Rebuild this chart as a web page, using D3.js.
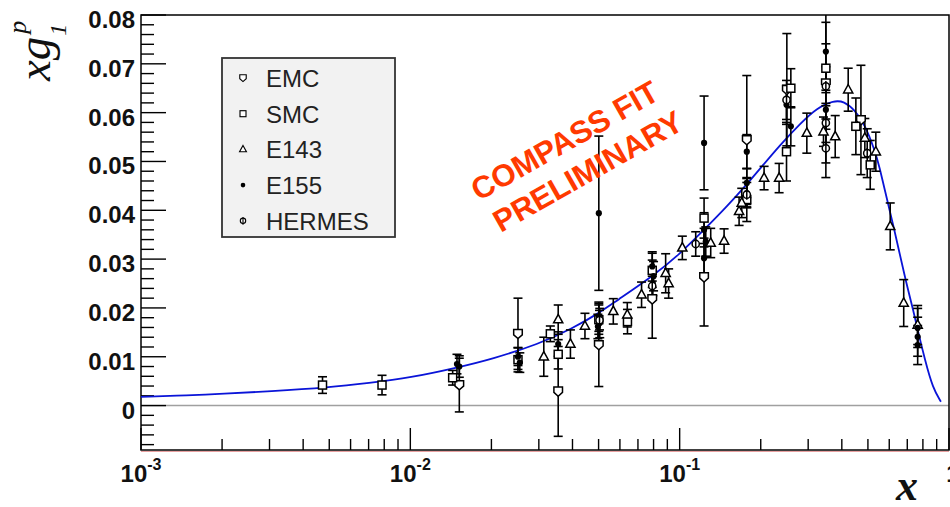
<!DOCTYPE html>
<html>
<head>
<meta charset="utf-8">
<script src="https://cdn.jsdelivr.net/npm/d3@7"></script>
<style>
  body { margin: 0; background: #fff; }
  svg { display: block; }
</style>
</head>
<body>
<div id="chart"></div>
<script>
// fit curve
const fitX = [0.001, 0.0015, 0.002, 0.003, 0.005, 0.007, 0.01, 0.015, 0.02, 0.03, 0.04, 0.05,
  0.0577, 0.0791, 0.1, 0.1232, 0.15, 0.1768, 0.2, 0.2369, 0.2806, 0.3236, 0.3735, 0.408,
  0.4454, 0.4857, 0.5296, 0.553, 0.5753, 0.6273, 0.6846, 0.7467, 0.765, 0.8136, 0.8716, 0.9334];
const fitY = [0.0018, 0.0021, 0.0024, 0.0029, 0.0037, 0.0046, 0.0057, 0.0078, 0.0095, 0.0126, 0.0158, 0.0189,
  0.0213, 0.0264, 0.0310, 0.0360, 0.0408, 0.0452, 0.0487, 0.0535, 0.0578, 0.0610, 0.0625, 0.0623,
  0.0606, 0.0577, 0.0524, 0.0487, 0.0445, 0.0360, 0.0264, 0.0182, 0.0155, 0.0094, 0.0035, 0.0008];

// [x, xg1p, error]
const emcData = [
  [0.0152, 0.0042, 0.0055], [0.0251, 0.0147, 0.0073], [0.0354, 0.0029, 0.0092],
  [0.0501, 0.0124, 0.0085], [0.0791, 0.0218, 0.0080], [0.1232, 0.0263, 0.0100],
  [0.1775, 0.0544, 0.0132], [0.25, 0.0647, 0.0115], [0.349, 0.0660, 0.0163],
  [0.471, 0.0585, 0.0112]
];
const smcData = [
  [0.00472, 0.0042, 0.0017], [0.00785, 0.0042, 0.0020], [0.01436, 0.0057, 0.0015],
  [0.0251, 0.0094, 0.0025], [0.0331, 0.0147, 0.0016], [0.0354, 0.0105, 0.0030],
  [0.0501, 0.0176, 0.0030], [0.064, 0.0172, 0.0025], [0.0791, 0.0277, 0.0035],
  [0.1232, 0.0384, 0.0041], [0.1775, 0.0422, 0.0045], [0.2493, 0.0520, 0.0060],
  [0.2587, 0.0650, 0.0040], [0.349, 0.0691, 0.0050], [0.451, 0.0572, 0.0058],
  [0.51, 0.0493, 0.0050]
];
const e143Data = [
  [0.0313, 0.0100, 0.0040], [0.0354, 0.0176, 0.0030], [0.0393, 0.0126, 0.0029],
  [0.0445, 0.0163, 0.0026], [0.0567, 0.0193, 0.0026], [0.0639, 0.0186, 0.0025],
  [0.0722, 0.0227, 0.0026], [0.0887, 0.0271, 0.0040], [0.091, 0.0250, 0.0030],
  [0.1023, 0.0323, 0.0024], [0.1304, 0.0333, 0.0030], [0.1462, 0.0337, 0.0025],
  [0.1662, 0.0398, 0.0029], [0.170, 0.0415, 0.0030], [0.2058, 0.0466, 0.0024],
  [0.234, 0.0466, 0.0030], [0.2966, 0.0558, 0.0041], [0.342, 0.0561, 0.0030],
  [0.378, 0.0551, 0.0043], [0.4224, 0.0647, 0.0044], [0.487, 0.0548, 0.0040],
  [0.535, 0.0520, 0.0040], [0.605, 0.0367, 0.0048], [0.679, 0.0210, 0.0048],
  [0.765, 0.0165, 0.0040]
];
const e155Data = [
  [0.0152, 0.0080, 0.0022], [0.0149, 0.0085, 0.0020], [0.0251, 0.0100, 0.0018],
  [0.0255, 0.0088, 0.0020], [0.0354, 0.0126, 0.0025], [0.0501, 0.0394, 0.0158],
  [0.0501, 0.0182, 0.0030], [0.0505, 0.0169, 0.0030], [0.0497, 0.0162, 0.0025],
  [0.0791, 0.0285, 0.0030], [0.080, 0.0265, 0.0030], [0.0795, 0.0250, 0.0025],
  [0.1232, 0.0538, 0.0096], [0.1232, 0.0360, 0.0035], [0.125, 0.0336, 0.0030],
  [0.1232, 0.0302, 0.0030], [0.1775, 0.0520, 0.0035], [0.1775, 0.0456, 0.0030],
  [0.1775, 0.0435, 0.0030], [0.2587, 0.0572, 0.0040], [0.2493, 0.0616, 0.0040],
  [0.349, 0.0725, 0.0060], [0.349, 0.0606, 0.0040], [0.765, 0.0159, 0.0040],
  [0.765, 0.0141, 0.0040], [0.765, 0.0124, 0.0040]
];
const hermesData = [
  [0.0504, 0.0175, 0.0020], [0.0791, 0.0245, 0.0020], [0.1147, 0.0331, 0.0025],
  [0.1775, 0.0432, 0.0025], [0.2493, 0.0626, 0.0040], [0.349, 0.0654, 0.0040],
  [0.349, 0.0579, 0.0040], [0.349, 0.0527, 0.0060], [0.497, 0.0517, 0.0050]
];

const legendNames = ["EMC", "SMC", "E143", "E155", "HERMES"];
const xMajor = [1e-3, 1e-2, 1e-1, 1];
const xMajorExp = ["-3", "-2", "-1", null];
const yMajor = [0, 0.01, 0.02, 0.03, 0.04, 0.05, 0.06, 0.07, 0.08];

const series = [
  {name: "EMC", data: emcData},
  {name: "SMC", data: smcData},
  {name: "E143", data: e143Data},
  {name: "E155", data: e155Data},
  {name: "HERMES", data: hermesData}
];

const chartW = 950, chartH = 507;
const plotL = 141, plotR = 949, plotT = 15, plotB = 450;

const x = d3.scaleLog().domain([1e-3, 1]).range([plotL, plotR]);
const y = d3.scaleLinear().domain([-0.0091, 0.08]).range([plotB, plotT]);

const svg = d3.select("#chart").append("svg")
    .attr("width", chartW)
    .attr("height", chartH)
    .attr("font-family", "'Liberation Sans', Arial, sans-serif");

svg.append("rect").attr("width", chartW).attr("height", chartH).attr("fill", "#fff");

svg.append("defs").append("clipPath").attr("id", "plot-clip")
  .append("rect")
    .attr("x", plotL).attr("y", plotT)
    .attr("width", plotR - plotL).attr("height", plotB - plotT);

// zero line
svg.append("line")
    .attr("x1", plotL).attr("x2", plotR)
    .attr("y1", y(0)).attr("y2", y(0))
    .attr("stroke", "#a0a0a0")
    .attr("stroke-width", 1.5);

// faint red line under the x axis
svg.append("line")
    .attr("x1", plotL).attr("x2", plotR)
    .attr("y1", plotB + 1.5).attr("y2", plotB + 1.5)
    .attr("stroke", "#e8a0a0")
    .attr("stroke-width", 1);

// y ticks (drawn inside the frame)
let yAxis = svg.append("g").attr("stroke", "#000").attr("stroke-width", 1.4);
y.ticks(45).forEach(function (t) {
    let major = yMajor.some(function (m) { return Math.abs(m - t) < 1e-9; });
    yAxis.append("line")
        .attr("x1", plotL).attr("x2", plotL + (major ? 25 : 13))
        .attr("y1", y(t)).attr("y2", y(t));
});

svg.append("g")
    .selectAll("text")
    .data(yMajor)
    .enter().append("text")
    .attr("x", 135)
    .attr("y", function (d) { return y(d) + 13; })
    .attr("text-anchor", "end")
    .attr("font-size", 24)
    .attr("font-weight", "bold")
    .attr("fill", "#111")
    .text(function (d) { return d === 0 ? "0" : d.toFixed(2); });

// x ticks
let xAxis = svg.append("g").attr("stroke", "#000").attr("stroke-width", 1.4);
x.ticks().forEach(function (t) {
    let major = xMajor.some(function (m) { return Math.abs(Math.log10(m) - Math.log10(t)) < 1e-6; });
    xAxis.append("line")
        .attr("x1", x(t)).attr("x2", x(t))
        .attr("y1", plotB).attr("y2", plotB - (major ? 22 : 11));
});

let xLabels = svg.append("g")
    .selectAll("text")
    .data(xMajor)
    .enter().append("text")
    .attr("x", function (d) { return x(d); })
    .attr("y", 482)
    .attr("text-anchor", "middle")
    .attr("font-size", 24)
    .attr("font-weight", "bold")
    .attr("fill", "#111");
xLabels.each(function (d, i) {
    let t = d3.select(this);
    if (xMajorExp[i] === null) { t.attr("x", x(d) + 4).text("1"); return; }
    t.append("tspan").text("10");
    t.append("tspan").attr("dy", -12).attr("font-size", 16).text(xMajorExp[i]);
});

// frame
svg.append("rect")
    .attr("x", plotL).attr("y", plotT)
    .attr("width", plotR - plotL).attr("height", plotB - plotT)
    .attr("fill", "none")
    .attr("stroke", "#000")
    .attr("stroke-width", 1.5);

// fit curve
let line = d3.line()
    .x(function (d) { return x(d[0]); })
    .y(function (d) { return y(d[1]); })
    .curve(d3.curveBasis);

svg.append("path")
    .datum(fitX.map(function (v, i) { return [v, fitY[i]]; }))
    .attr("clip-path", "url(#plot-clip)")
    .attr("fill", "none")
    .attr("stroke", "#0a14d8")
    .attr("stroke-width", 1.8)
    .attr("d", line);

// markers for the experiments
function drawMarker(g, kind) {
    if (kind === "EMC") {
        g.append("path").attr("d", "M-4.3,-4.3H4.3V1L0,4.8L-4.3,1Z")
            .attr("fill", "#fff").attr("stroke", "#000").attr("stroke-width", 1.5);
    } else if (kind === "SMC") {
        g.append("rect").attr("x", -4).attr("y", -4).attr("width", 8).attr("height", 8)
            .attr("fill", "#fff").attr("stroke", "#000").attr("stroke-width", 1.5);
    } else if (kind === "E143") {
        g.append("path").attr("d", "M0,-5.2L4.6,3.2L-4.6,3.2Z")
            .attr("fill", "#fff").attr("stroke", "#000").attr("stroke-width", 1.5);
    } else if (kind === "E155") {
        g.append("circle").attr("r", 3.1).attr("fill", "#000");
    } else {
        g.append("circle").attr("r", 3.6)
            .attr("fill", "#fff").attr("stroke", "#000").attr("stroke-width", 1.5);
        g.append("line").attr("y1", -5.2).attr("y2", 5.2)
            .attr("stroke", "#000").attr("stroke-width", 1.5);
    }
}

let points = svg.append("g").attr("clip-path", "url(#plot-clip)");

// error bars first, markers on top
series.forEach(function (s) {
    let bars = points.append("g")
        .attr("stroke", "#000")
        .attr("stroke-width", 1.6)
        .selectAll("g")
        .data(s.data)
        .enter().append("g");
    bars.append("line")
        .attr("x1", function (d) { return x(d[0]); })
        .attr("x2", function (d) { return x(d[0]); })
        .attr("y1", function (d) { return y(d[1] - d[2]); })
        .attr("y2", function (d) { return y(d[1] + d[2]); });
    [-1, 1].forEach(function (sign) {
        bars.append("line")
            .attr("x1", function (d) { return x(d[0]) - 4.5; })
            .attr("x2", function (d) { return x(d[0]) + 4.5; })
            .attr("y1", function (d) { return y(d[1] + sign * d[2]); })
            .attr("y2", function (d) { return y(d[1] + sign * d[2]); });
    });
});

series.forEach(function (s) {
    points.append("g")
        .selectAll("g")
        .data(s.data)
        .enter().append("g")
        .attr("transform", function (d) { return "translate(" + x(d[0]) + "," + y(d[1]) + ")"; })
        .each(function () { drawMarker(d3.select(this), s.name); });
});

// legend
let legend = svg.append("g");
legend.append("rect")
    .attr("x", 222).attr("y", 58)
    .attr("width", 173).attr("height", 179)
    .attr("fill", "#f2f2f2")
    .attr("stroke", "#333")
    .attr("stroke-width", 1.8);

let entries = legend.selectAll("g.entry")
    .data(legendNames)
    .enter().append("g")
    .attr("class", "entry")
    .attr("transform", function (d, i) { return "translate(0," + (87 + i * 35.7) + ")"; });

entries.append("g")
    .attr("transform", "translate(243,-9) scale(0.75)")
    .each(function (d) { drawMarker(d3.select(this), d); });

entries.append("text")
    .attr("x", 266)
    .attr("font-size", 24)
    .attr("fill", "#222")
    .text(function (d) { return d; });

// axis titles
let yTitle = svg.append("g")
    .attr("transform", "translate(50,81) rotate(-90)")
    .attr("font-family", "'Liberation Serif', 'Times New Roman', serif")
    .attr("font-style", "italic")
    .attr("fill", "#111");
let xg = yTitle.append("text").attr("font-size", 47).text("xg");
let xgLen = xg.node().getComputedTextLength();
yTitle.append("text").attr("x", xgLen + 3).attr("y", -24).attr("font-size", 26).text("p");
yTitle.append("text").attr("x", xgLen + 1).attr("y", 16).attr("font-size", 24).text("1");

svg.append("text")
    .attr("x", 896)
    .attr("y", 500)
    .attr("font-family", "'Liberation Serif', 'Times New Roman', serif")
    .attr("font-style", "italic")
    .attr("font-weight", "bold")
    .attr("font-size", 44)
    .attr("fill", "#111")
    .text("x");

// preliminary stamp
let stamp = svg.append("g")
    .attr("transform", "translate(570,150) rotate(-29.5)")
    .attr("font-size", 31)
    .attr("font-weight", "bold")
    .attr("fill", "#ff3a00")
    .attr("text-anchor", "middle");
stamp.append("text").text("COMPASS FIT");
stamp.append("text").attr("x", 5).attr("y", 38).text("PRELIMINARY");
</script>
</body>
</html>
